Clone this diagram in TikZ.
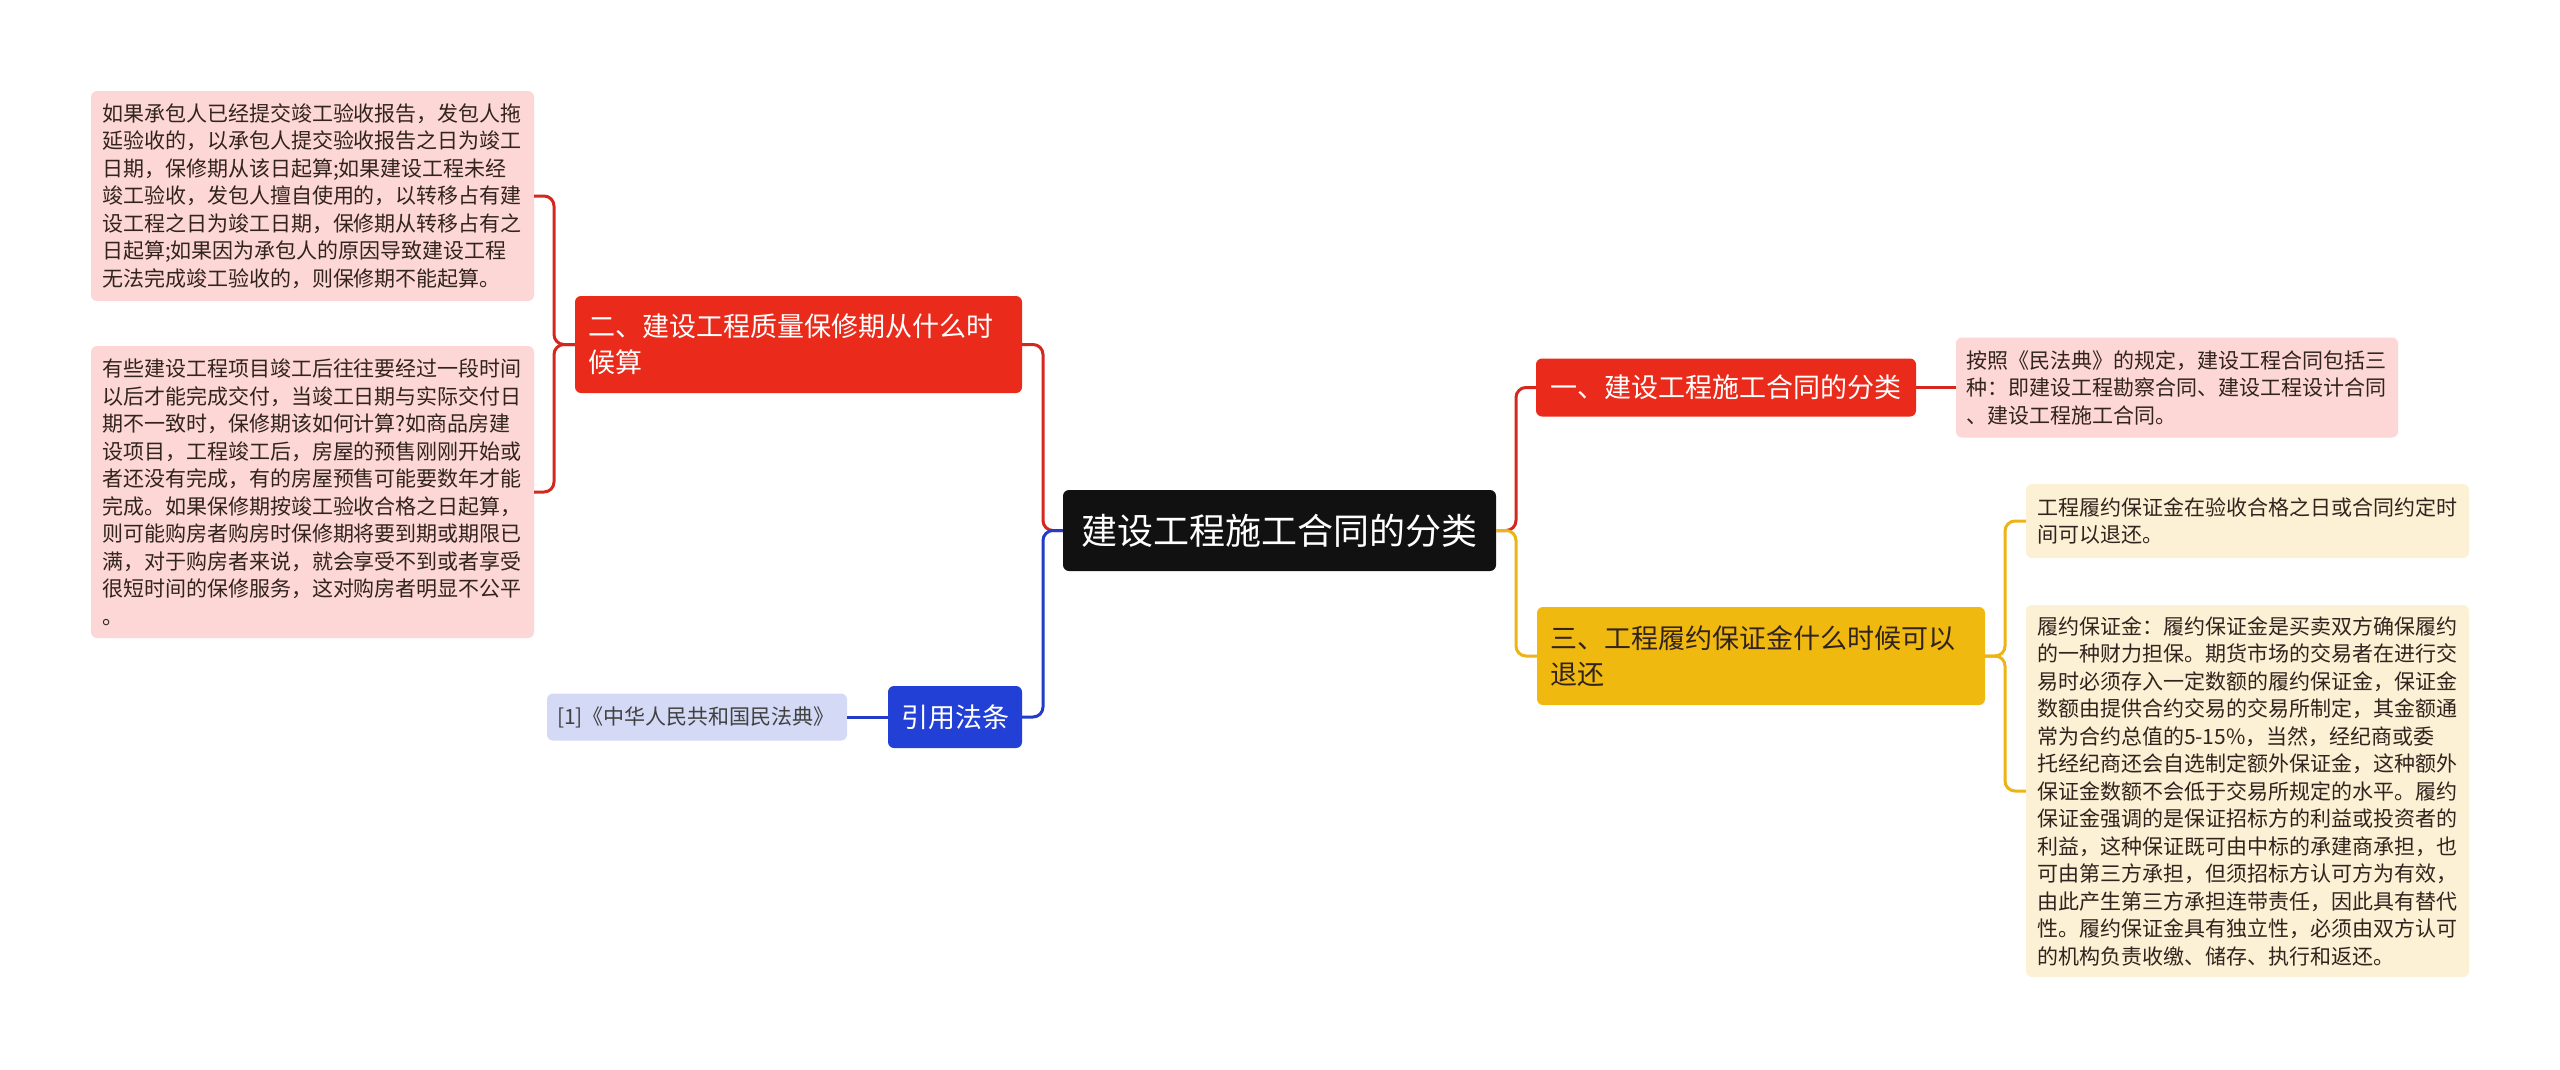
\documentclass[tikz,border=0pt]{standalone}
\usepackage{fontspec}
\setmainfont{Noto Sans CJK SC}
\usepackage{tikz}
\usetikzlibrary{positioning}
\definecolor{rootblack}{RGB}{17,17,17}
\definecolor{topicred}{RGB}{234,43,27}
\definecolor{linered}{RGB}{212,40,30}
\definecolor{leafpink}{RGB}{252,215,213}
\definecolor{topicyellow}{RGB}{240,185,15}
\definecolor{lineyellow}{RGB}{236,180,20}
\definecolor{leafcream}{RGB}{252,241,212}
\definecolor{topicblue}{RGB}{35,64,214}
\definecolor{lineblue}{RGB}{35,60,200}
\definecolor{leafblue}{RGB}{212,217,245}
\definecolor{leaftext}{RGB}{50,35,30}

\begin{document}
\begin{tikzpicture}[x=1pt, y=-1pt,
  topic/.style={rounded corners=6pt, inner sep=0pt, text=white,
    font=\fontsize{27}{36}\selectfont},
  leaf/.style={rounded corners=6pt, inner sep=0pt, text=leaftext,
    minimum width=443pt, text width=421pt, align=left,
    font=\fontsize{21}{27.5}\selectfont},
  link/.style={line width=3pt, rounded corners=10pt}]
  \useasboundingbox[fill=white] (0,0) rectangle (2560,1069);
  % centre
  \node[topic, fill=rootblack, minimum width=433pt, minimum height=81pt,
    font=\fontsize{36}{44}\selectfont] (root) at (1279.5,530.5) {建设工程施工合同的分类};
  % left side
  \node[topic, fill=topicred, minimum width=447pt, minimum height=97pt,
    text width=421pt, align=left] (warranty) at (798.5,344.5)
    {二、建设工程质量保修期从什么时\\候算};
  \node[leaf, fill=leafpink, minimum height=210pt] (warrantyA) at (312.5,196)
    {如果承包人已经提交竣工验收报告，发包人拖\\
     延验收的，以承包人提交验收报告之日为竣工\\
     日期，保修期从该日起算;如果建设工程未经\\
     竣工验收，发包人擅自使用的，以转移占有建\\
     设工程之日为竣工日期，保修期从转移占有之\\
     日起算;如果因为承包人的原因导致建设工程\\
     无法完成竣工验收的，则保修期不能起算。};
  \node[leaf, fill=leafpink, minimum height=292pt] (warrantyB) at (312.5,492)
    {有些建设工程项目竣工后往往要经过一段时间\\
     以后才能完成交付，当竣工日期与实际交付日\\
     期不一致时，保修期该如何计算?如商品房建\\
     设项目，工程竣工后，房屋的预售刚刚开始或\\
     者还没有完成，有的房屋预售可能要数年才能\\
     完成。如果保修期按竣工验收合格之日起算，\\
     则可能购房者购房时保修期将要到期或期限已\\
     满，对于购房者来说，就会享受不到或者享受\\
     很短时间的保修服务，这对购房者明显不公平\\
     。};
  \node[topic, fill=topicblue, minimum width=134pt, minimum height=62pt] (cite) at (955,717) {引用法条};
  \node[leaf, fill=leafblue, minimum width=300pt, text width=280pt, minimum height=47pt,
    text=rootblack!80] (civilcode) at (697,717) {[1]《中华人民共和国民法典》};
  % right side
  \node[topic, fill=topicred, minimum width=380pt, minimum height=58pt] (kinds) at (1726,387.5)
    {一、建设工程施工合同的分类};
  \node[leaf, fill=leafpink, minimum width=442pt, minimum height=100pt] (kindsA) at (2177,387.5)
    {按照《民法典》的规定，建设工程合同包括三\\
     种：即建设工程勘察合同、建设工程设计合同\\
     、建设工程施工合同。};
  \node[topic, fill=topicyellow, minimum width=448pt, minimum height=98pt,
    text width=421pt, align=left, text=leaftext] (deposit) at (1761,656)
    {三、工程履约保证金什么时候可以\\退还};
  \node[leaf, fill=leafcream, minimum height=74pt] (depositA) at (2247.5,521)
    {工程履约保证金在验收合格之日或合同约定时\\
     间可以退还。};
  \node[leaf, fill=leafcream, minimum height=372pt] (depositB) at (2247.5,791)
    {履约保证金：履约保证金是买卖双方确保履约\\
     的一种财力担保。期货市场的交易者在进行交\\
     易时必须存入一定数额的履约保证金，保证金\\
     数额由提供合约交易的交易所制定，其金额通\\
     常为合约总值的5-15\%，当然，经纪商或委\\
     托经纪商还会自选制定额外保证金，这种额外\\
     保证金数额不会低于交易所规定的水平。履约\\
     保证金强调的是保证招标方的利益或投资者的\\
     利益，这种保证既可由中标的承建商承担，也\\
     可由第三方承担，但须招标方认可方为有效，\\
     由此产生第三方承担连带责任，因此具有替代\\
     性。履约保证金具有独立性，必须由双方认可\\
     的机构负责收缴、储存、执行和返还。};
  % connectors
  \coordinate (leftfork) at (1043,530.5);
  \coordinate (rightfork) at (1516,530.5);
  \coordinate (warrantyfork) at (554,344.5);
  \coordinate (depositfork) at (2005,656);
  \draw[link, linered] (root.west) -- (leftfork) |- (warranty.east);
  \draw[link, linered] (warranty.west) -- (warrantyfork) |- (warrantyA.east);
  \draw[link, linered] (warranty.west) -- (warrantyfork) |- (warrantyB.east);
  \draw[link, linered] (root.east) -- (rightfork) |- (kinds.west);
  \draw[link, linered] (kinds.east) -- (kindsA.west);
  \draw[link, lineblue] (root.west) -- (leftfork) |- (cite.east);
  \draw[link, lineblue] (cite.west) -- (civilcode.east);
  \draw[link, lineyellow] (root.east) -- (rightfork) |- (deposit.west);
  \draw[link, lineyellow] (deposit.east) -- (depositfork) |- (depositA.west);
  \draw[link, lineyellow] (deposit.east) -- (depositfork) |- (depositB.west);
\end{tikzpicture}
\end{document}
